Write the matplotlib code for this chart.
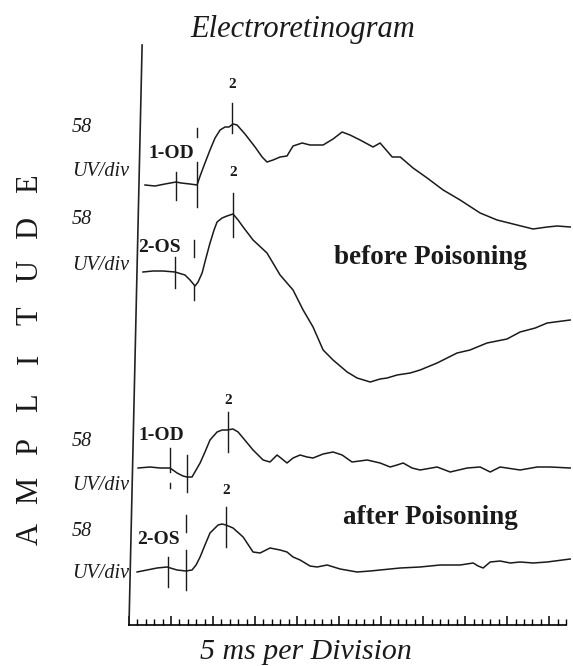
import matplotlib
matplotlib.use("Agg")
import matplotlib.pyplot as plt
from matplotlib.ticker import MultipleLocator
from matplotlib.lines import Line2D

# ---------------- data (time in ms, amplitude in display units above baseline) ----------------
t_before_od = [9.5, 15.5, 21.4, 28.0, 31.0, 36.3, 40.5, 42.3, 45.2, 48.2, 51.2, 54.2, 57.1, 59.5,
               61.9, 64.3, 69.0, 75.0, 79.2, 82.1, 85.7, 89.9, 94.0, 97.6, 103.0, 107.7, 115.5,
               121.4, 126.8, 131.5, 137.5, 145.2, 149.4, 153.0, 156.6, 161.4, 169.0, 177.4, 186.9,
               197.0, 208.9, 219.0, 228.5, 240.4, 248.8, 254.8, 262.5]
a_before_od = [0, -1, 1, 3, 2, 1, 0, 9, 22, 35, 47, 55, 58, 58, 61, 60, 51, 38, 28, 23, 25, 28, 29,
               39, 42, 40, 40, 46, 53, 50, 45, 38, 42, 35, 28, 28, 17, 7, -5, -15, -28, -35, -39,
               -44, -42, -41, -42]

t_before_os = [8.3, 14.3, 20.2, 27.4, 33.3, 36.3, 39.3, 41.1, 43.5, 45.8, 48.2, 50.6, 52.4, 55.4,
               58.3, 61.9, 64.9, 67.9, 73.8, 82.1, 89.9, 97.6, 103.6, 109.5, 115.5, 121.4, 129.8,
               135.7, 143.5, 149.4, 153.6, 159.5, 167.3, 173.2, 183.3, 195.2, 202.9, 213.0, 224.9,
               232.7, 241.7, 248.8, 262.5]
a_before_os = [0, 1, 1, 0, -3, -8, -14, -10, -1, 14, 29, 42, 50, 54, 56, 58, 52, 45, 32, 19, -3,
               -18, -38, -55, -78, -88, -100, -106, -110, -107, -106, -103, -101, -98, -91, -81,
               -78, -71, -67, -60, -56, -51, -48]

t_after_od = [5.4, 12.5, 18.5, 24.4, 28.6, 32.1, 34.5, 37.5, 39.9, 42.3, 45.2, 48.2, 52.4, 55.4,
              58.3, 61.9, 64.9, 67.9, 73.8, 79.8, 83.9, 88.1, 91.1, 94.0, 97.6, 101.8, 105.9,
              109.5, 115.5, 121.4, 126.8, 132.7, 141.7, 149.4, 155.4, 159.5, 163.1, 168.4, 173.2,
              183.3, 191.1, 201.2, 208.9, 214.9, 220.8, 232.7, 242.9, 250.6, 262.5]
a_after_od = [0, 1, 0, 0, -5, -8, -9, -9, -2, 5, 16, 28, 36, 38, 38, 39, 36, 30, 18, 8, 6, 13, 9,
              5, 10, 13, 11, 10, 14, 16, 13, 6, 8, 5, 1, 3, 5, 0, -2, 1, -4, 0, 1, -4, 1, -2, 1,
              1, 0]

t_after_os = [4.8, 10.7, 16.7, 22.6, 28.6, 33.9, 37.5, 39.9, 42.3, 45.2, 48.2, 53.0, 55.4, 57.7,
              61.9, 67.9, 73.8, 78.0, 83.9, 89.9, 94.0, 97.6, 101.8, 107.7, 111.9, 117.9, 125.6,
              135.7, 143.5, 149.4, 161.4, 173.2, 185.1, 197.0, 204.8, 207.7, 210.7, 214.9, 220.8,
              226.8, 232.7, 240.5, 248.8, 262.5]
a_after_os = [-2, 0, 2, 3, 0, -1, 0, 5, 13, 25, 37, 45, 46, 45, 42, 33, 18, 17, 22, 20, 18, 13,
              10, 4, 3, 5, 1, -2, -1, 0, 2, 3, 5, 5, 7, 4, 2, 8, 9, 7, 8, 7, 8, 11]

trace_names = ["1-OD", "2-OS", "1-OD", "2-OS"]
scale_value = ["58", "58", "58", "58"]
scale_unit = ["UV/div", "UV/div", "UV/div", "UV/div"]
peak_label = "2"
# marker times (ms) for each trace: stimulus marks and peak mark
stim_times = [[28.0, 40.5], [27.4, 38.7], [24.4, 34.5], [23.2, 33.9]]
peak_times = [61.3, 61.9, 58.9, 57.7]
condition_labels = ["before Poisoning", "after Poisoning"]
title = "Electroretinogram"
xlabel = "5 ms per Division"
ylabel = "AMPLITUDE"

# ---------------- layout ----------------
W, H = 573, 666
fig = plt.figure(figsize=(W / 100, H / 100), dpi=100)
fig.patch.set_facecolor("white")

def fx(x):
    return x / W

def fy(y):
    return 1 - y / H

ax = fig.add_axes([fx(129), 41 / H, 437 / W, 580 / H])
ax.set_xlim(0, 260)
ax.set_ylim(0, 580)
ax.patch.set_alpha(0)
for s in ["top", "right", "left"]:
    ax.spines[s].set_visible(False)
ax.spines["bottom"].set_linewidth(1.2)
ax.xaxis.set_major_locator(MultipleLocator(25))
ax.xaxis.set_minor_locator(MultipleLocator(5))
ax.tick_params(axis="x", which="major", direction="in", length=6.5, width=1.1, labelbottom=False)
ax.tick_params(axis="x", which="minor", direction="in", length=4, width=1.0)
ax.set_yticks([])
# slightly skewed vertical axis line (scan)
ax.add_line(Line2D([0, 0.03], [0, 1], transform=ax.transAxes, color="#222", lw=1.2, clip_on=False))

baselines = [440, 353, 157, 55]
series = [(t_before_od, a_before_od), (t_before_os, a_before_os),
          (t_after_od, a_after_od), (t_after_os, a_after_os)]
ink = "#1a1a1a"
for (t, a), b in zip(series, baselines):
    ax.plot(t, [b + v for v in a], color=ink, lw=1.1, clip_on=False)

# marker segments (relative to baseline)
stim_spans = [
    [[(13, -15)], [(57, 48), (23, -22)]],
    [[(15, -16)], [(32, 15), (-14, -28)]],
    [[(20, -4), (-15, -20)], [(13, -24)]],
    [[(13, -17)], [(55, 38), (20, -20)]],
]
peak_spans = [(82, 52), (79, 35), (56, 16), (63, 23)]
label_offsets = [100, 100, 68, 80]
for i, b in enumerate(baselines):
    for tt, spans in zip(stim_times[i], stim_spans[i]):
        for hi, lo in spans:
            ax.plot([tt, tt], [b + lo, b + hi], color=ink, lw=1.0, clip_on=False)
    hi, lo = peak_spans[i]
    ax.plot([peak_times[i]] * 2, [b + lo, b + hi], color=ink, lw=1.0, clip_on=False)
    ax.text(peak_times[i], b + label_offsets[i], peak_label, ha="center", va="center",
            fontsize=11, fontweight="bold", family="Liberation Serif", color=ink)

serif = "Liberation Serif"
# left labels
val_y = [127, 220, 442, 532]
unit_y = [172, 265, 485, 573]
name_pos = [(148, 153), (138, 247), (138, 435), (137, 540)]
for i in range(4):
    fig.text(fx(72), fy(val_y[i]), scale_value[i], ha="left", va="center", fontsize=14.5,
             style="italic", family=serif, color=ink)
    fig.text(fx(72), fy(unit_y[i]), scale_unit[i], ha="left", va="center", fontsize=14.5,
             style="italic", family=serif, color=ink)
    fig.text(fx(name_pos[i][0]), fy(name_pos[i][1]), trace_names[i], ha="left", va="center",
             fontsize=14, fontweight="bold", family=serif, color=ink)

fig.text(fx(430), fy(257), condition_labels[0], ha="center", va="center", fontsize=19.5,
         fontweight="bold", family=serif, color=ink)
fig.text(fx(430), fy(517), condition_labels[1], ha="center", va="center", fontsize=19.5,
         fontweight="bold", family=serif, color=ink)

fig.text(fx(303), fy(29), title, ha="center", va="center", fontsize=22, style="italic",
         family=serif, color=ink)
fig.text(fx(306), fy(652), xlabel, ha="center", va="center", fontsize=21.5, style="italic",
         family=serif, color=ink)

# vertical spaced axis title
n = len(ylabel)
top_y, bot_y = 184, 534
for k, ch in enumerate(ylabel):
    yy = bot_y - k * (bot_y - top_y) / (n - 1)
    fig.text(fx(30), fy(yy), ch, ha="center", va="center", rotation=90, fontsize=22,
             family=serif, color=ink)

fig.savefig("out.png", dpi=100, facecolor="white")
